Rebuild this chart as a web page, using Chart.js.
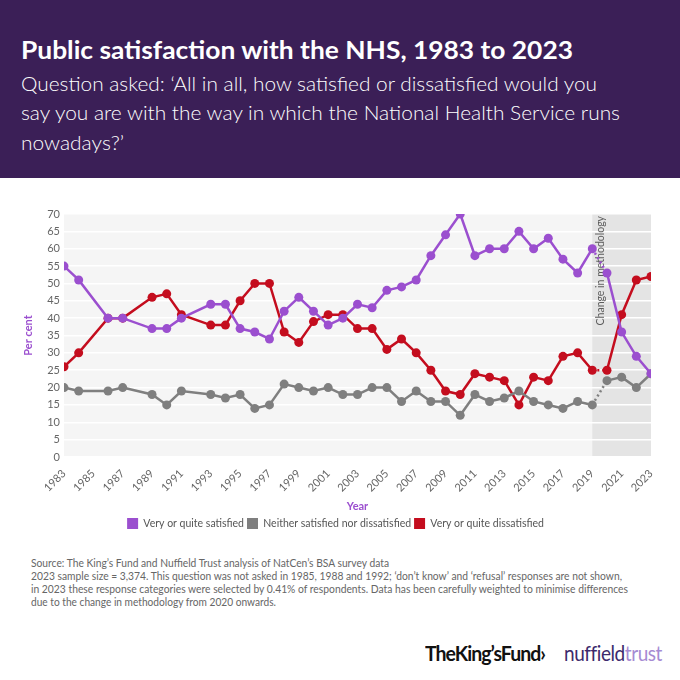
<!DOCTYPE html>
<html>
<head>
<meta charset="utf-8">
<script src="https://cdn.jsdelivr.net/npm/chart.js@4.4.1/dist/chart.umd.min.js"></script>
<style>
  html, body { margin: 0; padding: 0; background: #fff; }
  body { width: 680px; height: 680px; position: relative; overflow: hidden; font-family: Lato, "Open Sans", sans-serif; }
  #header { position: absolute; left: 0; top: 0; width: 680px; height: 178px; background: #3b1f57; }
  .line { position: absolute; left: 21px; white-space: nowrap; transform-origin: 0 50%; }
  .title { color: #fff; font-weight: 700; font-size: 24px; line-height: 30px; }
  .sub { color: #fff; font-size: 20px; font-weight: 300; line-height: 30px; }
  .foot { left: 31px; color: #666; font-size: 11px; line-height: 13px; }
  #chartBox { position: absolute; left: 0; top: 190px; width: 680px; height: 351px; }
  .logo { position: absolute; white-space: nowrap; transform-origin: 0 50%; line-height: 24px; top: 641px; }
</style>
</head>
<body>
<div id="header">
  <div class="line title" style="top:35px" data-w="552">Public satisfaction with the NHS, 1983 to 2023</div>
  <div class="line sub" style="top:68px" data-w="576">Question asked: ‘All in all, how satisfied or dissatisfied would you</div>
  <div class="line sub" style="top:97px" data-w="599">say you are with the way in which the National Health Service runs</div>
  <div class="line sub" style="top:127px" data-w="103">nowadays?’</div>
</div>

<div id="chartBox"><canvas id="chart"></canvas></div>

<div class="line foot" style="top:556px" data-w="358">Source: The King’s Fund and Nuffield Trust analysis of NatCen’s BSA survey data</div>
<div class="line foot" style="top:569px" data-w="591">2023 sample size = 3,374. This question was not asked in 1985, 1988 and 1992; ‘don’t know’ and ‘refusal’ responses are not shown,</div>
<div class="line foot" style="top:582px" data-w="597">in 2023 these response categories were selected by 0.41% of respondents. Data has been carefully weighted to minimise differences</div>
<div class="line foot" style="top:595px" data-w="245">due to the change in methodology from 2020 onwards.</div>

<div class="logo" style="left:425px; font-weight:700; font-size:20px; color:#111; letter-spacing:-1px" data-w="120">TheKing’sFund›</div>
<div class="logo" style="left:564px; font-size:22px; letter-spacing:-0.5px" data-w="98"><span style="color:#3d2a6c">nuffield</span><span style="color:#a68bd3">trust</span></div>

<script>
// survey years (no survey in 1985, 1988, 1992)
const years = [1983, 1984, 1986, 1987, 1989, 1990, 1991, 1993, 1994, 1995, 1996, 1997, 1998, 1999,
  2000, 2001, 2002, 2003, 2004, 2005, 2006, 2007, 2008, 2009, 2010, 2011, 2012, 2013, 2014, 2015,
  2016, 2017, 2018, 2019, 2020, 2021, 2022, 2023];

const satisfied = [55, 51, 40, 40, 37, 37, 40, 44, 44, 37, 36, 34, 42, 46,
  42, 38, 40, 44, 43, 48, 49, 51, 58, 64, 70, 58, 60, 60, 65, 60,
  63, 57, 53, 60, 53, 36, 29, 24];

const neither = [20, 19, 19, 20, 18, 15, 19, 18, 17, 18, 14, 15, 21, 20,
  19, 20, 18, 18, 20, 20, 16, 19, 16, 16, 12, 18, 16, 17, 19, 16,
  15, 14, 16, 15, 22, 23, 20, 24];

const dissatisfied = [26, 30, 40, 40, 46, 47, 41, 38, 38, 45, 50, 50, 36, 33,
  39, 41, 41, 37, 37, 31, 34, 30, 25, 19, 18, 24, 23, 22, 15, 23,
  22, 29, 30, 25, 25, 41, 51, 52];

const seriesNames = ['Very or quite satisfied', 'Neither satisfied nor dissatisfied', 'Very or quite dissatisfied'];
const seriesColors = ['#9b4fcf', '#7f7f7f', '#c40d1e'];
const methodologyFrom = 2019;
const methodologyLabel = 'Change in methodology';

function fitLines() {
  document.querySelectorAll('[data-w]').forEach(el => {
    el.style.transform = 'none';
    const w = el.getBoundingClientRect().width;
    const target = +el.dataset.w;
    if (w > 0) el.style.transform = 'scaleX(' + (target / w) + ')';
  });
}

function toPoints(values) {
  return years.map((y, i) => ({ x: y, y: values[i] }));
}

function makeDataset(i, values) {
  return {
    label: seriesNames[i],
    data: toPoints(values),
    borderColor: seriesColors[i],
    backgroundColor: seriesColors[i],
    pointBackgroundColor: seriesColors[i],
    borderWidth: 2.5,
    pointRadius: 4.5,
    pointBorderWidth: 0,
    pointHoverRadius: 4.5,
    tension: 0,
    segment: {
      // dotted join across the methodology change
      borderDash: ctx => ctx.p0.parsed.x === methodologyFrom ? [2, 3] : undefined
    }
  };
}

// plot background, grey band and label
const backdrop = {
  id: 'backdrop',
  beforeDraw(chart) {
    const { ctx, chartArea: a, scales } = chart;
    const x0 = scales.x.getPixelForValue(methodologyFrom);
    ctx.save();
    ctx.fillStyle = '#f5f5f5';
    ctx.fillRect(a.left, a.top, a.right - a.left, a.bottom - a.top);
    ctx.fillStyle = '#e4e4e4';
    ctx.fillRect(x0, a.top, a.right - x0, a.bottom - a.top);
    ctx.restore();
  },
  beforeDatasetsDraw(chart) {
    const { ctx, chartArea: a, scales } = chart;
    const x0 = scales.x.getPixelForValue(methodologyFrom);
    ctx.save();
    ctx.translate(x0 + 8, a.top + 2);
    ctx.rotate(-Math.PI / 2);
    ctx.font = '10.5px Lato, sans-serif';
    ctx.fillStyle = '#5c5c5c';
    ctx.textAlign = 'right';
    ctx.textBaseline = 'middle';
    ctx.fillText(methodologyLabel, 0, 0);
    ctx.restore();
  }
};

function drawChart() {
  const ctx = document.getElementById('chart');
  new Chart(ctx, {
    type: 'line',
    data: {
      datasets: [
        makeDataset(0, satisfied),
        makeDataset(1, neither),
        makeDataset(2, dissatisfied)
      ]
    },
    options: {
      responsive: true,
      maintainAspectRatio: false,
      animation: false,
      events: [],
      layout: { padding: { left: 20, right: 29, top: 24, bottom: 2 } },
      plugins: {
        tooltip: { enabled: false },
        legend: {
          position: 'bottom',
          labels: {
            boxWidth: 11,
            boxHeight: 11,
            padding: 3,
            color: '#555',
            font: { family: 'Lato, sans-serif', size: 10.5 },
            generateLabels(chart) {
              const items = Chart.defaults.plugins.legend.labels.generateLabels(chart);
              items.forEach(it => { it.lineWidth = 0; it.lineDash = []; });
              return items;
            }
          }
        }
      },
      scales: {
        x: {
          type: 'linear',
          min: 1983,
          max: 2023,
          afterFit: s => { s.height = 58; },
          grid: { display: false },
          border: { display: false },
          ticks: {
            stepSize: 2,
            maxRotation: 45,
            minRotation: 45,
            padding: 2,
            color: '#666',
            font: { family: 'Lato, sans-serif', size: 11 },
            callback: v => String(v)
          },
          title: {
            display: true,
            text: 'Year',
            color: '#9b4fcf',
            font: { family: 'Lato, sans-serif', size: 11, weight: 'bold' },
            padding: { top: 2, bottom: 2 }
          }
        },
        y: {
          min: 0,
          max: 70,
          afterFit: s => { s.width = 44; },
          grid: { color: '#ffffff', lineWidth: 1.5, drawTicks: false },
          border: { display: false },
          ticks: {
            stepSize: 5,
            padding: 4,
            color: '#666',
            font: { family: 'Lato, sans-serif', size: 11 }
          },
          title: {
            display: true,
            text: 'Per cent',
            color: '#9b4fcf',
            font: { family: 'Lato, sans-serif', size: 11, weight: 'bold' },
            padding: { top: 2, bottom: 0 }
          }
        }
      }
    },
    plugins: [backdrop]
  });
}

document.fonts.ready.then(() => {
  fitLines();
  drawChart();
});
</script>
</body>
</html>
